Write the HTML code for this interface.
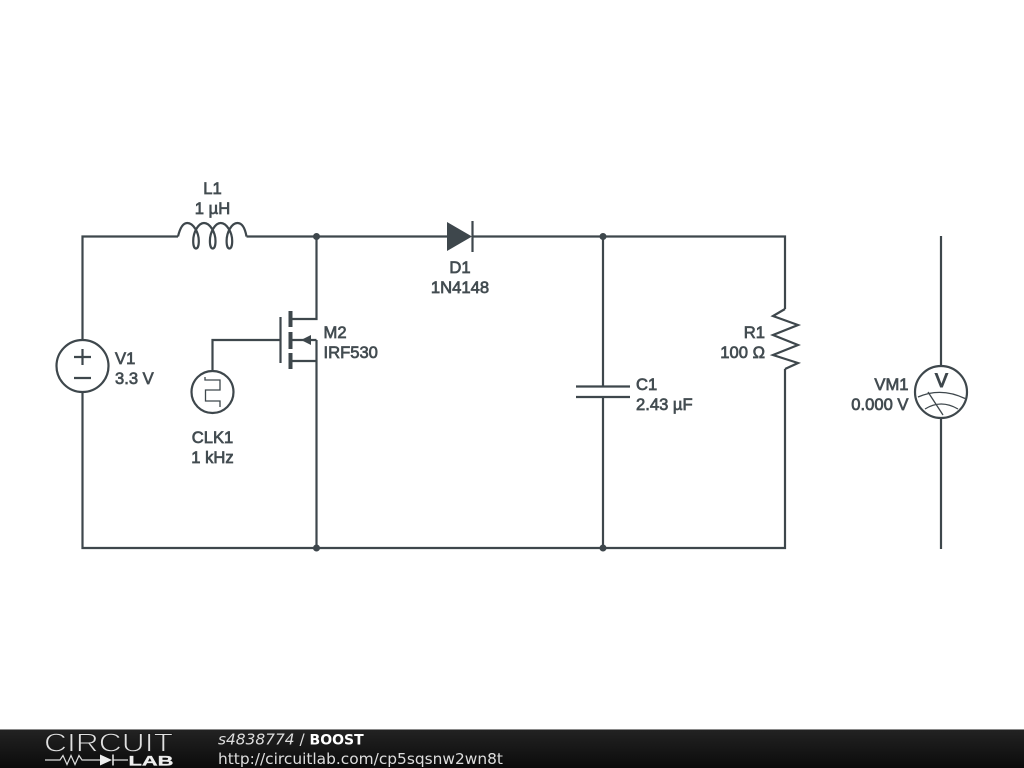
<!DOCTYPE html>
<html><head><meta charset="utf-8"><style>
html,body{margin:0;padding:0;background:#fff;width:1024px;height:768px;overflow:hidden}
svg{display:block}
.w{fill:none;stroke:#3e474c;stroke-width:2.2}
.t{font-family:"Liberation Sans",sans-serif;font-size:16.6px;fill:#434c51;stroke:#434c51;stroke-width:.7}
</style></head><body>
<svg width="1024" height="768" viewBox="0 0 1024 768" xmlns="http://www.w3.org/2000/svg">
<defs><linearGradient id="g" x1="0" y1="0" x2="0" y2="1"><stop offset="0" stop-color="#232323"/><stop offset="1" stop-color="#0b0b0b"/></linearGradient></defs>
<rect width="1024" height="768" fill="#fff"/>
<path class="w" d="M82.5 340V236.5H178M246.500 236.500H447M472 236.500H785V309M785 369V548H82.500V392M316.500 236.500V319H291M316.500 340V548M316.500 361H291M603 236.500V386M603 397V548M941 236V366M941 418V549M212.500 371V340H280.500"/>
<path class="w" stroke-linejoin="round" d="M178 236.500C180 228 183 223 187.300 223C193 223 198.800 232 198.800 241C198.800 246 197.500 248.500 196 248.500C194.500 248.500 193.200 246 193.200 241C193.200 232 198.500 223 204 223C209.700 223 215.500 232 215.500 241C215.500 246 214.200 248.500 212.700 248.500C211.200 248.500 209.900 246 209.900 241C209.900 232 215.200 223 220.700 223C226.400 223 232.200 232 232.200 241C232.200 246 230.900 248.500 229.400 248.500C227.900 248.500 226.600 246 226.600 241C226.600 232 231.900 223 237.400 223C242 223 245 228 246.500 236.500"/>
<circle class="w" cx="82.500" cy="366" r="26"/>
<path class="w" d="M74 357H91M82.500 349V365M74 378H91"/>
<path class="w" d="M280.500 317V363"/>
<path d="M290.500 311V327M290.500 332V349M290.500 353V369" fill="none" stroke="#3e474c" stroke-width="4"/>
<path class="w" d="M291 340H316.500"/>
<path d="M301 340L311 335V345Z" fill="#3e474c"/>
<circle class="w" cx="212.500" cy="392" r="21"/>
<path fill="none" stroke="#3e474c" stroke-width="1.300" d="M205 377V380H220V390H205.500V401H220V407"/>
<path d="M447 222L472 236.500L447 251Z" fill="#3e474c"/>
<path class="w" d="M472.500 221V252"/>
<path class="w" d="M576 386.500H630M576 397H630"/>
<path class="w" d="M785 309L773 316L798 325L773 335L798 345L773 355L798 363L785 369"/>
<circle class="w" cx="941" cy="392" r="26"/>
<path fill="none" stroke="#3e474c" stroke-width="1.300" d="M918 397Q941 387 965 398.500M925 409Q941 399 958 409M928 392L943 415"/>
<circle cx="316.500" cy="236.500" r="3.500" fill="#3e474c"/>
<circle cx="603" cy="236.500" r="3.500" fill="#3e474c"/>
<circle cx="316.500" cy="548" r="3.500" fill="#3e474c"/>
<circle cx="603" cy="548" r="3.500" fill="#3e474c"/>
<g class="t">
<text x="212.500" y="194" text-anchor="middle">L1</text>
<text x="212.500" y="214" text-anchor="middle">1 µH</text>
<text x="115" y="364">V1</text>
<text x="115" y="384">3.3 V</text>
<text x="323.500" y="338">M2</text>
<text x="323.500" y="358">IRF530</text>
<text x="212.500" y="443" text-anchor="middle">CLK1</text>
<text x="212.500" y="463" text-anchor="middle">1 kHz</text>
<text x="460" y="273" text-anchor="middle">D1</text>
<text x="460" y="293" text-anchor="middle">1N4148</text>
<text x="636" y="390">C1</text>
<text x="636" y="410">2.43 µF</text>
<text x="765" y="338" text-anchor="end">R1</text>
<text x="765" y="358" text-anchor="end">100 Ω</text>
<text x="908.500" y="390" text-anchor="end">VM1</text>
<text x="908.500" y="410" text-anchor="end">0.000 V</text>
</g>
<text x="941.500" y="387" text-anchor="middle" style="font-family:'Liberation Sans',sans-serif;font-size:19px;fill:#3e474c;stroke:#3e474c;stroke-width:1.100">V</text>
<rect y="729" width="1024" height="39" fill="url(#g)"/>
<rect y="729" width="1024" height="1" fill="#8a8a8a"/>
<text x="44" y="751.500" textLength="129" lengthAdjust="spacingAndGlyphs" style="font-family:'Liberation Sans',sans-serif;font-size:26px;fill:#e0e0e0;stroke:#1a1a1a;stroke-width:.9;paint-order:fill">CIRCUIT</text>
<path d="M45 760H60L63 755.500L67 764.500L71 755.500L75 764.500L79 755.500L82 760H100M113 760H128" fill="none" stroke="#ddd" stroke-width="1.200"/>
<path d="M100 754.500L112 760L100 765.500Z" fill="#eee"/>
<path d="M113 754.500V765.500" stroke="#eee" stroke-width="1.500"/>
<text x="128.500" y="765.500" textLength="45" lengthAdjust="spacingAndGlyphs" style="font-family:'Liberation Sans',sans-serif;font-size:14px;font-weight:bold;fill:#eee;stroke:#eee;stroke-width:.3">LAB</text>
<text x="218" y="744.500" style="font-family:'DejaVu Sans',sans-serif;font-size:15.400px;fill:#ddd"><tspan font-style="italic">s4838774</tspan> / <tspan font-weight="bold" font-size="14" fill="#fff">BOOST</tspan></text>
<text x="218" y="764" style="font-family:'DejaVu Sans',sans-serif;font-size:15.400px;fill:#ddd">http://circuitlab.com/cp5sqsnw2wn8t</text>
</svg>
</body></html>
